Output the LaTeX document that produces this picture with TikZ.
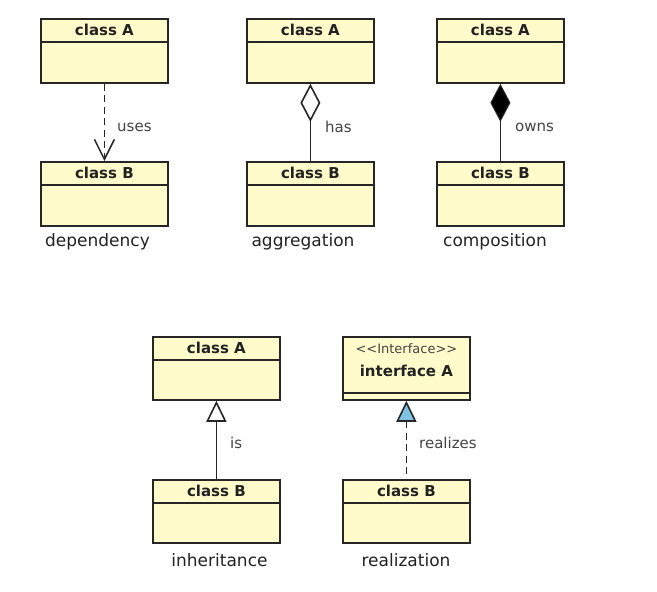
\documentclass[tikz,border=0pt]{standalone}
\usepackage{fontspec}
\setmainfont{DejaVu Sans}
\usetikzlibrary{arrows.meta}
\definecolor{boxfill}{HTML}{FFFBCB}
\definecolor{boxline}{HTML}{262626}
\definecolor{txt}{HTML}{222222}
\definecolor{lbltxt}{HTML}{444444}
\definecolor{realblue}{HTML}{7EC3E3}
\begin{document}
\begin{tikzpicture}[x=1pt,y=-1pt,
  cls/.style={draw=boxline, fill=boxfill, line width=1.8pt, minimum width=127pt, minimum height=64pt, inner sep=0pt, anchor=north west},
  hdr/.style={font=\bfseries\fontsize{15}{18}\selectfont, text=txt, inner sep=0pt},
  stereo/.style={font=\fontsize{13}{15}\selectfont, text=lbltxt, inner sep=0pt},
  lbl/.style={font=\fontsize{15}{18}\selectfont, text=lbltxt, anchor=west, inner sep=0pt},
  captxt/.style={font=\fontsize{17}{20}\selectfont, text=txt, inner sep=0pt},
  conn/.style={line width=1.8pt, draw=boxline},
  divider/.style={draw=boxline, line width=1.6pt},
  dashline/.style={dash pattern=on 7pt off 4.5pt}
]
\fill[white] (0,0) rectangle (657,592);
\useasboundingbox (0,0) rectangle (657,592);

% ---------- dependency ----------
\node[cls] (dA) at (40,18) {};
\node[cls] (dB) at (40,161) {};
% ---------- aggregation ----------
\node[cls] (aA) at (246,18) {};
\node[cls] (aB) at (246,161) {};
% ---------- composition ----------
\node[cls] (cA) at (436,18) {};
\node[cls] (cB) at (436,161) {};
% ---------- inheritance ----------
\node[cls, minimum height=63pt] (iA) at (152,336) {};
\node[cls, minimum height=63pt] (iB) at (152,479) {};
% ---------- realization ----------
\node[cls, minimum height=63pt] (rA) at (342,336) {};
\node[cls, minimum height=63pt] (rB) at (342,479) {};

% dividers
\foreach \n in {dA,dB,aA,aB,cA,cB,iA,iB,rB}{
  \draw[divider] ([yshift=-24pt]\n.north west) -- ([yshift=-24pt]\n.north east);
}
\draw[divider] ([yshift=-57pt]rA.north west) -- ([yshift=-57pt]rA.north east);

% headers
\node[hdr] (dAt) at ([yshift=-12pt]dA.north) {class A};
\node[hdr] (dBt) at ([yshift=-12pt]dB.north) {class B};
\node[hdr] (aAt) at ([yshift=-12pt]aA.north) {class A};
\node[hdr] (aBt) at ([yshift=-12pt]aB.north) {class B};
\node[hdr] (cAt) at ([yshift=-12pt]cA.north) {class A};
\node[hdr] (cBt) at ([yshift=-12pt]cB.north) {class B};
\node[hdr] (iAt) at ([yshift=-12pt]iA.north) {class A};
\node[hdr] (iBt) at ([yshift=-12pt]iB.north) {class B};
\node[stereo] (rAs) at ([yshift=-13pt]rA.north) {{<}{<}Interface{>}{>}};
\node[hdr] (rAt) at ([yshift=-35pt]rA.north) {interface A};
\node[hdr] (rBt) at ([yshift=-12pt]rB.north) {class B};

% connectors
\draw[conn, dashline, -{Straight Barb[length=20pt, width=20pt, line width=1.5pt]}] (dA.south) -- (dB.north);
\draw[conn, {Diamond[open, length=38pt, width=20pt, line width=1.6pt]}-] (aA.south) -- (aB.north);
\draw[conn, {Diamond[length=38pt, width=20pt, line width=1pt, fill=black]}-] (cA.south) -- (cB.north);
\draw[conn, {Triangle[length=21pt, width=20pt, line width=1.6pt, fill=white]}-] (iA.south) -- (iB.north);
\draw[conn, dashline, {Triangle[length=21pt, width=20pt, line width=1.6pt, fill=realblue]}-] (rA.south) -- (rB.north);

% edge labels
\node[lbl] (dL) at (117,127) {uses};
\node[lbl] (aL) at (325,127) {has};
\node[lbl] (cL) at (515,127) {owns};
\node[lbl] (iL) at (230,443) {is};
\node[lbl] (rL) at (419,443) {realizes};

% captions
\node[captxt] (dC) at (97.5,242) {dependency};
\node[captxt] (aC) at (303,242) {aggregation};
\node[captxt] (cC) at (495,242) {composition};
\node[captxt] (iC) at (219.5,560) {inheritance};
\node[captxt] (rC) at (406,560) {realization};
\end{tikzpicture}
\end{document}
